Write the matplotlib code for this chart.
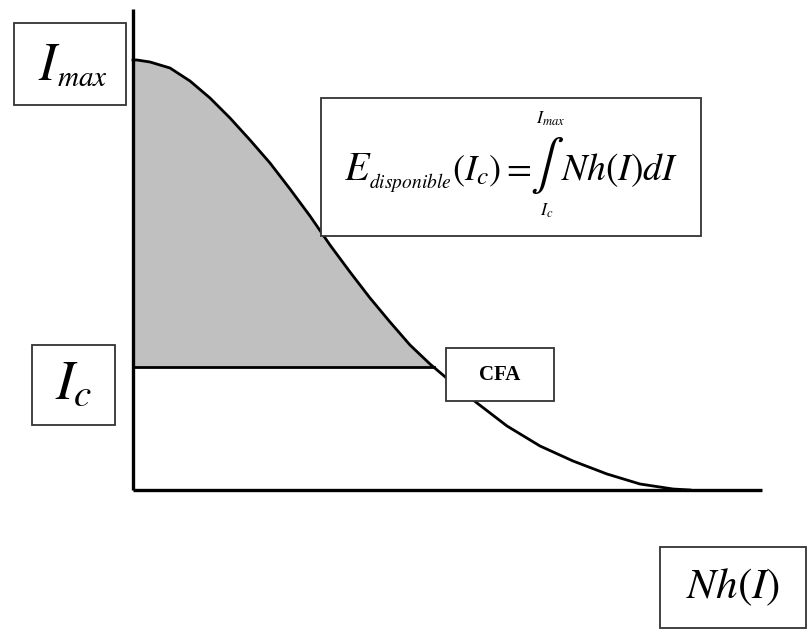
import numpy as np
import matplotlib
matplotlib.use("Agg")
import matplotlib.pyplot as plt
from matplotlib.patches import Rectangle

plt.rcParams['mathtext.fontset'] = 'stix'
plt.rcParams['font.family'] = ['Liberation Serif', 'DejaVu Serif']

# curva Nh(I) (x = Nh, y = I)
nh = [0.00, 0.04, 0.17, 0.37, 0.57, 0.77, 0.97, 1.17, 1.37, 1.57, 1.77, 1.97, 2.17,
      2.37, 2.57, 2.77, 2.97, 3.17, 3.44, 3.74, 4.07, 4.40, 4.74, 5.07, 5.40, 5.57]
corriente = [4.30, 4.30, 4.28, 4.22, 4.09, 3.92, 3.72, 3.50, 3.27, 3.01, 2.74, 2.45, 2.18,
             1.92, 1.68, 1.45, 1.26, 1.09, 0.87, 0.64, 0.44, 0.29, 0.16, 0.06, 0.01, 0.00]
i_c = 1.23
nh_cfa = 3.005
x_fin = 6.29
y_fin = 4.81

fig = plt.figure(figsize=(8.08, 6.33), dpi=100)
ax = fig.add_axes([0, 0, 1, 1])
ax.set_xlim(-1.33, 6.75)
ax.set_ylim(-1.43, 4.90)
ax.axis('off')

nh = np.array(nh)
corriente = np.array(corriente)


def px(x, y):
    # posicion en pixeles de la figura -> coordenadas de datos
    return (x - 133) / 100, (490 - y) / 100


# area sombreada entre la curva y I_c
ax.fill_between(nh, corriente, i_c, where=corriente >= i_c, interpolate=True,
                color='#c0c0c0', lw=0, zorder=1)
ax.plot(nh, corriente, color='black', lw=2.0, zorder=3, solid_joinstyle='round')
ax.plot([0, nh_cfa], [i_c, i_c], color='black', lw=2.0, zorder=3)

# ejes
ax.plot([0, 0], [0, y_fin], color='black', lw=2.4, zorder=4, solid_capstyle='butt')
ax.plot([0, x_fin], [0, 0], color='black', lw=2.4, zorder=4, solid_capstyle='butt')


def caja(x0, y0, x1, y1, texto=None, **kw):
    a = px(x0, y0)
    b = px(x1, y1)
    ax.add_patch(Rectangle((a[0], b[1]), b[0] - a[0], a[1] - b[1], facecolor='white',
                           edgecolor='#333333', lw=1.3, zorder=5))
    if texto:
        c = px((x0 + x1) / 2, (y0 + y1) / 2)
        ax.text(c[0], c[1], texto, ha='center', va='center', zorder=6, **kw)


def texto(x, y, s, size, ha='left', va='baseline', **kw):
    ax.text(*px(x, y), s, fontsize=size, ha=ha, va=va, zorder=6, **kw)


# I_max
caja(14, 23, 126, 105)
texto(38, 80, r'$I$', 38)
texto(57, 86, r'$max$', 21)

caja(32, 345, 115, 425, r'$I_c$', fontsize=40)
caja(446, 348, 554, 401, 'CFA', fontsize=15, fontweight='bold')
caja(660, 547, 806, 628, r'$Nh(I)$', fontsize=31)

# formula
caja(321, 98, 701, 236)
texto(344, 180, r'$E$', 29)
texto(369, 188, r'$disponible$', 14)
texto(452, 180, r'$(I_c) =$', 26)
texto(547, 165, r'$\int$', 36, ha='center', va='center')
texto(551, 119, r'$I_{max}$', 13, ha='center', va='center')
texto(547, 211, r'$I_c$', 13, ha='center', va='center')
texto(561, 180, r'$Nh(I)dI$', 27)

fig.savefig('out.png', dpi=100)
